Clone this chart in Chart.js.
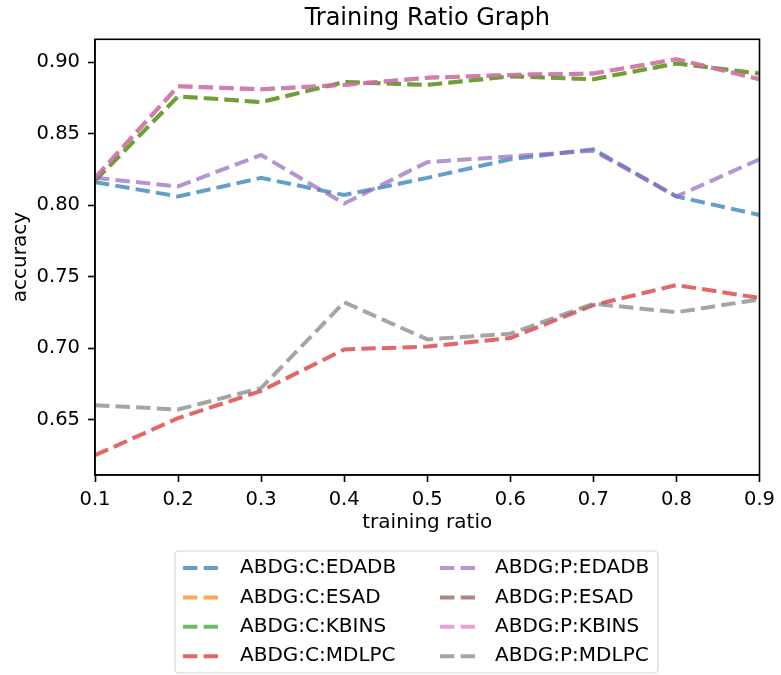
<!DOCTYPE html>
<html>
<head>
<meta charset="utf-8">
<title>Training Ratio Graph</title>
<script src="https://cdn.jsdelivr.net/npm/chart.js@4"></script>
<style>
  body { margin: 0; background: #fff; }
  canvas { display: block; }
</style>
</head>
<body>
<canvas id="myChart" width="781" height="675"></canvas>
<script>
// training ratios (x axis)
var ratios = [0.1, 0.2, 0.3, 0.4, 0.5, 0.6, 0.7, 0.8, 0.9];
var yTicks = [0.65, 0.70, 0.75, 0.80, 0.85, 0.90];

// accuracy per series
var cEdadb = [0.816, 0.806, 0.819, 0.807, 0.819, 0.832, 0.839, 0.806, 0.793];
var cEsad  = [0.817, 0.876, 0.872, 0.886, 0.884, 0.890, 0.888, 0.899, 0.892];
var cKbins = [0.817, 0.876, 0.872, 0.886, 0.884, 0.890, 0.888, 0.899, 0.892];
var cMdlpc = [0.625, 0.651, 0.670, 0.699, 0.701, 0.707, 0.730, 0.744, 0.735];
var pEdadb = [0.819, 0.813, 0.835, 0.801, 0.830, 0.834, 0.838, 0.806, 0.832];
var pEsad  = [0.819, 0.883, 0.881, 0.884, 0.889, 0.891, 0.892, 0.902, 0.888];
var pKbins = [0.819, 0.883, 0.881, 0.884, 0.889, 0.891, 0.892, 0.902, 0.888];
var pMdlpc = [0.660, 0.657, 0.672, 0.732, 0.706, 0.710, 0.731, 0.725, 0.734];

var names = ["ABDG:C:EDADB", "ABDG:C:ESAD", "ABDG:C:KBINS", "ABDG:C:MDLPC",
             "ABDG:P:EDADB", "ABDG:P:ESAD", "ABDG:P:KBINS", "ABDG:P:MDLPC"];
var series = [cEdadb, cEsad, cKbins, cMdlpc, pEdadb, pEsad, pKbins, pMdlpc];
var colors = ["rgba(31,119,180,0.7)", "rgba(255,127,14,0.7)", "rgba(44,160,44,0.7)",
              "rgba(214,39,40,0.7)", "rgba(148,103,189,0.7)", "rgba(140,86,75,0.7)",
              "rgba(227,119,194,0.7)", "rgba(127,127,127,0.7)"];

var dash = [14.4, 6.2];

Chart.defaults.font.family = "'DejaVu Sans', sans-serif";
Chart.defaults.color = "#000";

var dataSets = [];
for (var i = 0; i < series.length; i++) {
  var pts = [];
  for (var j = 0; j < ratios.length; j++) {
    pts.push({ x: ratios[j], y: series[i][j] });
  }
  dataSets.push({
    label: names[i],
    data: pts,
    borderColor: colors[i],
    backgroundColor: colors[i],
    borderWidth: 4,
    borderDash: dash,
    pointRadius: 0,
    fill: false,
    tension: 0,
    order: series.length - i   // later series on top, like matplotlib
  });
}

// frame on all four sides, title centred over the axes, boxed legend below
var framePlugin = {
  id: "frame",
  afterDraw: function(chart) {
    var ctx = chart.ctx, a = chart.chartArea;
    ctx.save();
    ctx.strokeStyle = "#000";
    ctx.lineWidth = 1.6;
    ctx.setLineDash([]);
    ctx.strokeRect(a.left, a.top, a.right - a.left, a.bottom - a.top);

    ctx.fillStyle = "#000";
    ctx.font = "24px 'DejaVu Sans'";
    ctx.textAlign = "center";
    ctx.textBaseline = "middle";
    ctx.fillText("Training Ratio Graph", (a.left + a.right) / 2, 19);

    // legend box
    var bx = 175, by = 551, bw = 483, bh = 122, r = 4;
    ctx.beginPath();
    ctx.moveTo(bx + r, by);
    ctx.arcTo(bx + bw, by, bx + bw, by + bh, r);
    ctx.arcTo(bx + bw, by + bh, bx, by + bh, r);
    ctx.arcTo(bx, by + bh, bx, by, r);
    ctx.arcTo(bx, by, bx + bw, by, r);
    ctx.closePath();
    ctx.fillStyle = "rgba(255,255,255,0.8)";
    ctx.fill();
    ctx.strokeStyle = "#d5d5d5";
    ctx.lineWidth = 1.2;
    ctx.stroke();

    ctx.font = "20px 'DejaVu Sans'";
    ctx.textBaseline = "middle";
    ctx.textAlign = "left";
    var colX = [183, 440], textX = [240, 495];
    chart.data.datasets.forEach(function(ds, k) {
      var col = Math.floor(k / 4), row = k % 4;
      var y = 568 + row * 29.4;
      ctx.beginPath();
      ctx.setLineDash(dash);
      ctx.lineWidth = 4;
      ctx.strokeStyle = ds.borderColor;
      ctx.moveTo(colX[col], y);
      ctx.lineTo(colX[col] + 36, y);
      ctx.stroke();
      ctx.setLineDash([]);
      ctx.fillStyle = "#000";
      ctx.fillText(ds.label, textX[col], y);
    });
    ctx.restore();
  }
};

var ctx = document.getElementById("myChart").getContext("2d");
var chart = new Chart(ctx, {
  type: "line",
  data: { datasets: dataSets },
  options: {
    responsive: false,
    animation: false,
    devicePixelRatio: 1,
    layout: { padding: { left: 0, right: 15, top: 39.3, bottom: 140 } },
    plugins: {
      legend: { display: false },
      tooltip: { enabled: false },
      title: { display: false }
    },
    scales: {
      x: {
        type: "linear",
        min: 0.1,
        max: 0.9,
        afterBuildTicks: function(scale) {
          scale.ticks = ratios.map(function(v) { return { value: v }; });
        },
        afterFit: function(scale) { scale.height = 60; },
        ticks: {
          color: "#000",
          font: { size: 19.5 },
          padding: 6,
          maxRotation: 0,
          callback: function(v) { return Number(v).toFixed(1); }
        },
        grid: {
          display: true,
          drawOnChartArea: false,
          drawTicks: true,
          tickLength: 7,
          tickWidth: 1.6,
          tickColor: "#000"
        },
        border: { display: true, color: "#000", width: 1.6 },
        title: {
          display: true,
          text: "training ratio",
          color: "#000",
          font: { size: 20 },
          padding: { top: 0, bottom: 0 }
        }
      },
      y: {
        type: "linear",
        min: 0.6112,
        max: 0.9159,
        afterBuildTicks: function(scale) {
          scale.ticks = yTicks.map(function(v) { return { value: v }; });
        },
        afterFit: function(scale) { scale.width = 95; },
        ticks: {
          color: "#000",
          font: { size: 19.5 },
          padding: 8,
          callback: function(v) { return Number(v).toFixed(2); }
        },
        grid: {
          display: true,
          drawOnChartArea: false,
          drawTicks: true,
          tickLength: 7,
          tickWidth: 1.6,
          tickColor: "#000"
        },
        border: { display: true, color: "#000", width: 1.6 },
        title: {
          display: true,
          text: "accuracy",
          color: "#000",
          font: { size: 20 },
          padding: { top: 9, bottom: 0 }
        }
      }
    }
  },
  plugins: [framePlugin]
});
</script>
</body>
</html>
